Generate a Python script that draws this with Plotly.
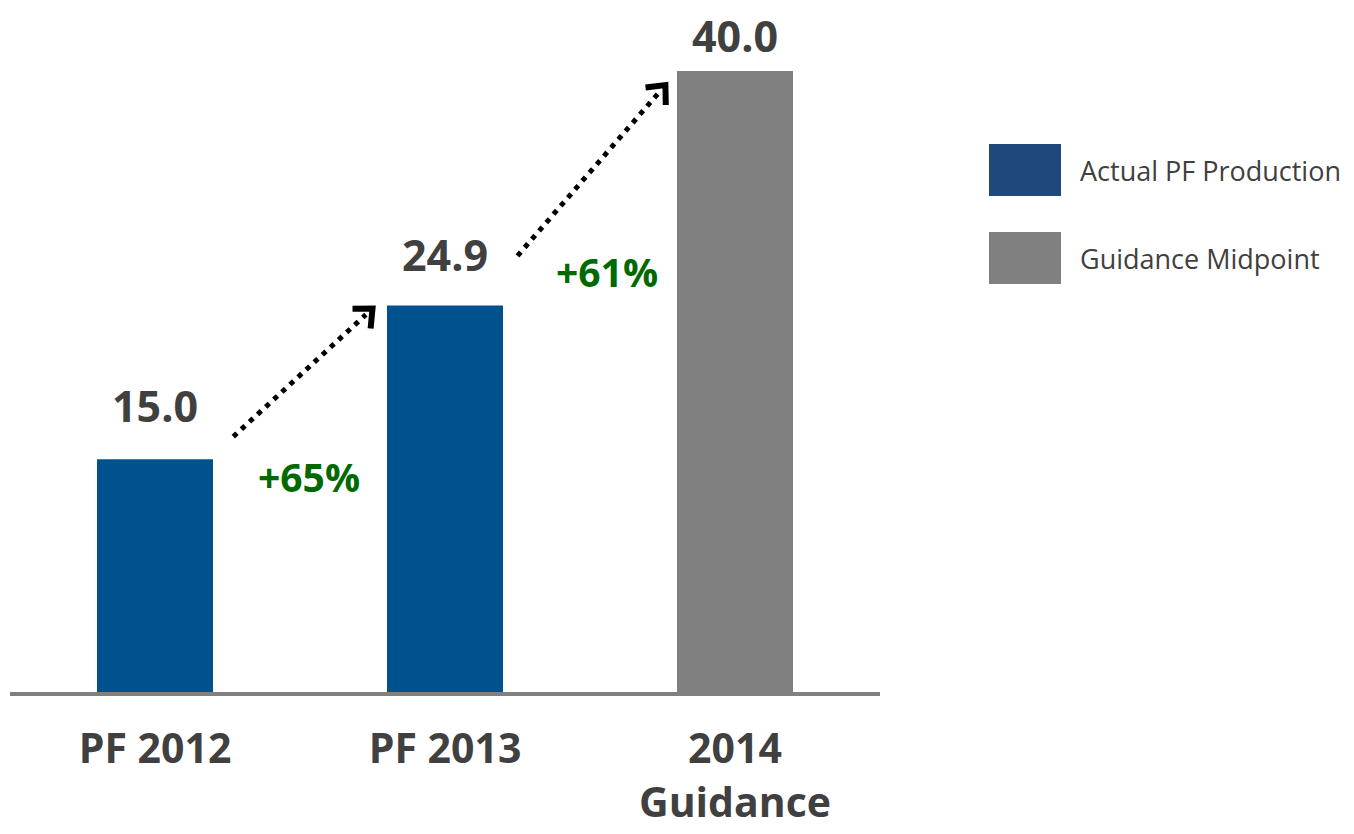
import plotly.graph_objects as go
import math

# ---- data ----
categories = ["PF 2012", "PF 2013", "2014<br>Guidance"]
values = [15.0, 24.9, 40.0]
value_labels = ["15.0", "24.9", "40.0"]
growth_labels = ["+65%", "+61%"]
legend_names = ["Actual PF Production", "Guidance Midpoint"]

BLUE = "#00528F"
LEG_BLUE = "#1F497D"
GRAY = "#808080"
TEXT = "#404040"
GREEN = "#006A00"
FONT = "Open Sans"

OFF = 8  # page body margin
W, H = 1354 - 2 * OFF, 834 - 2 * OFF
# plot area in screen coords: x 10..880, y 9..692
ML, MT = 10 - OFF, 9 - OFF
PW, PH = 870, 683
MR = W - ML - PW
MB = H - MT - PH
XR = [-0.5, 2.5]
YR = [0, 44]
xs = list(range(len(categories)))

fig = go.Figure()
fig.add_trace(go.Bar(
    x=xs, y=values, width=0.4,
    marker=dict(color=[BLUE, BLUE, GRAY], line=dict(width=0)),
    hoverinfo="x+y", showlegend=False,
))

ann = []
shift = [54, 51, 36]
for i, (v, t) in enumerate(zip(values, value_labels)):
    ann.append(dict(x=i, y=v, text=t, showarrow=False, yshift=shift[i],
                    font=dict(family=FONT, size=43, color=TEXT, weight="bold")))

pxu = PW / (XR[1] - XR[0])
pyu = PH / (YR[1] - YR[0])
arrow_off = [((0.27, 1.45), (-0.25, -0.2)), ((0.25, 3.2), (-0.24, -0.9))]
growth_pos = [(0.53, 13.9), (1.56, 27.1)]
shapes = []
for i in range(2):
    (sx, sy), (ex, ey) = arrow_off[i]
    x0, y0 = i + sx, values[i] + sy
    x1, y1 = i + 1 + ex, values[i + 1] + ey
    dxp = (x1 - x0) * pxu
    dyp = (y1 - y0) * pyu
    L = math.hypot(dxp, dyp)
    ux, uy = dxp / L, dyp / L
    lx1 = x1 - ux * 9 / pxu
    ly1 = y1 - uy * 9 / pyu
    shapes.append(dict(type="line", xref="x", yref="y", x0=x0, y0=y0, x1=lx1, y1=ly1,
                       line=dict(color="black", width=5, dash="5px,6px")))
    arm = 20
    pts = []
    for ang in (math.radians(42), -math.radians(42)):
        cx = -(ux * math.cos(ang) - uy * math.sin(ang))
        cy = -(ux * math.sin(ang) + uy * math.cos(ang))
        pts.append((x1 + cx * arm / pxu, y1 + cy * arm / pyu))
    path = f"M{pts[0][0]},{pts[0][1]} L{x1},{y1} L{pts[1][0]},{pts[1][1]}"
    shapes.append(dict(type="path", xref="x", yref="y", path=path,
                       line=dict(color="black", width=6)))
    gx, gy = growth_pos[i]
    ann.append(dict(x=gx, y=gy, text=growth_labels[i], showarrow=False,
                    font=dict(family=FONT, size=39, color=GREEN, weight="bold")))

def px2paper(px, py):
    # screen pixel -> paper coords
    return (px - 10) / PW, (692 - py) / PH

leg_colors = [LEG_BLUE, GRAY]
leg_top = [144, 232]
for name, c, top in zip(legend_names, leg_colors, leg_top):
    x0, y0 = px2paper(989, top + 52)
    x1, y1 = px2paper(1061, top)
    shapes.append(dict(type="rect", xref="paper", yref="paper", x0=x0, y0=y0, x1=x1, y1=y1,
                       fillcolor=c, line=dict(width=0)))
    tx, ty = px2paper(1078, top + 26)
    ann.append(dict(x=tx, y=ty, xref="paper", yref="paper", text=name, showarrow=False,
                    xanchor="left", yanchor="middle",
                    font=dict(family=FONT, size=27, color=TEXT)))

fig.update_layout(
    width=W, height=H,
    margin=dict(l=ML, r=MR, t=MT, b=MB, pad=0, autoexpand=False),
    plot_bgcolor="white", paper_bgcolor="white",
    shapes=shapes, annotations=ann,
    xaxis=dict(range=XR, tickvals=xs, ticktext=categories, showgrid=False, zeroline=False,
               showline=True, linecolor=GRAY, linewidth=4, ticks="", automargin=False,
               tickfont=dict(family=FONT, size=41, color=TEXT, weight="bold"),
               ticklabelstandoff=18),
    yaxis=dict(range=YR, visible=False, showgrid=False, zeroline=False, automargin=False),
    showlegend=False,
)

fig.write_html("out.html")
